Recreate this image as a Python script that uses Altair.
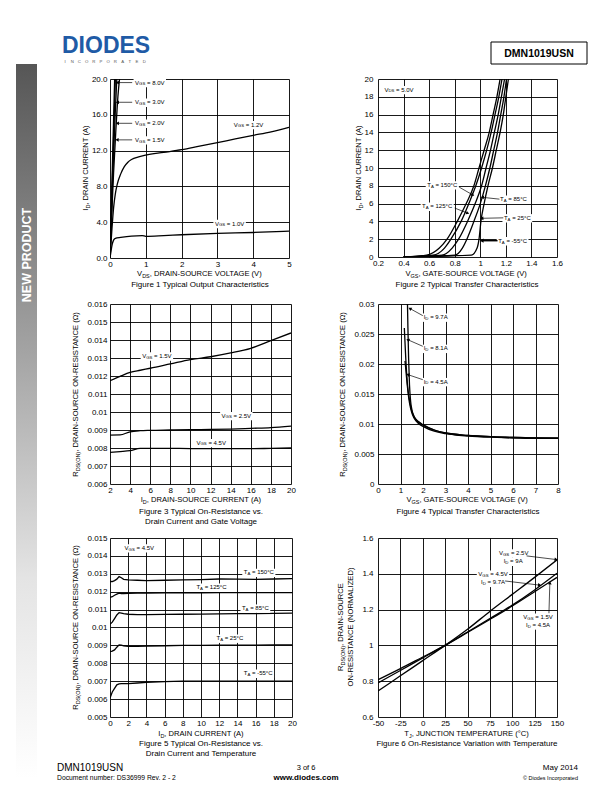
import math
import altair as alt
import pandas as pd

FONT = "Liberation Sans"

# ---------------- Figure 1: output characteristics ----------------
F1_VDS = {
    "8.0V": [0.0, 0.065, 0.13],
    "3.0V": [0.0, 0.075, 0.15],
    "2.0V": [0.0, 0.05, 0.1, 0.15, 0.19],
    "1.5V": [0.0, 0.05, 0.1, 0.16, 0.22, 0.28],
    "1.2V": [0.0, 0.05, 0.1, 0.15, 0.2, 0.3, 0.4, 0.5, 0.6, 0.8, 1.0, 1.5, 2.0, 2.5, 3.0, 3.5, 4.0, 4.5, 5.0],
    "1.0V": [0.0, 0.03, 0.06, 0.1, 0.15, 0.3, 0.6, 0.9, 1.0, 1.5, 2.0, 3.0, 4.0, 5.0],
}
F1_ID = {
    "8.0V": [0.0, 10.0, 20.0],
    "3.0V": [0.0, 10.0, 20.0],
    "2.0V": [0.0, 6.0, 11.5, 16.5, 20.0],
    "1.5V": [0.0, 5.0, 9.5, 14.0, 18.0, 20.5],
    "1.2V": [0.0, 3.0, 5.6, 7.2, 8.2, 9.4, 10.2, 10.7, 11.0, 11.3, 11.5, 11.8, 12.1, 12.5, 12.9, 13.3, 13.7, 14.1, 14.6],
    "1.0V": [0.0, 0.8, 1.5, 2.0, 2.2, 2.3, 2.45, 2.5, 2.42, 2.5, 2.6, 2.75, 2.85, 3.0],
}
F1_XTICKS = [0, 1, 2, 3, 4, 5]
F1_YTICKS = [0, 4, 8, 12, 16, 20]

# ---------------- Figure 2: transfer characteristics ----------------
F2_ID = [0.0, 0.2, 1, 2, 4, 6, 8, 10, 12, 14, 16, 18, 20]
F2_VGS = {
    "150": [0.40, 0.58, 0.68, 0.74, 0.82, 0.89, 0.95, 0.99, 1.03, 1.07, 1.10, 1.13, 1.155],
    "125": [0.40, 0.63, 0.72, 0.77, 0.85, 0.91, 0.965, 1.01, 1.05, 1.085, 1.115, 1.145, 1.17],
    "85": [0.40, 0.70, 0.78, 0.83, 0.90, 0.96, 1.01, 1.045, 1.08, 1.11, 1.14, 1.165, 1.19],
    "25": [0.40, 0.80, 0.86, 0.895, 0.95, 1.00, 1.04, 1.075, 1.105, 1.135, 1.16, 1.185, 1.205],
    "-55": [0.40, 0.93, 0.975, 0.99, 1.005, 1.03, 1.06, 1.095, 1.125, 1.155, 1.18, 1.20, 1.22],
}
F2_XTICKS = [0.2, 0.4, 0.6, 0.8, 1.0, 1.2, 1.4, 1.6]
F2_YTICKS = [0, 2, 4, 6, 8, 10, 12, 14, 16, 18, 20]

# ---------------- Figure 3: on-resistance vs drain current ----------------
F3_ID = [2, 3, 4, 5, 6, 8, 10, 12, 14, 16, 18, 20]
F3_R = {
    "1.5V": [0.01174, 0.01198, 0.0122, 0.01232, 0.01243, 0.01267, 0.01291, 0.01307, 0.01328, 0.01354, 0.01396, 0.01439],
    "2.5V": [0.00872, 0.00873, 0.0089, 0.00896, 0.00898, 0.009, 0.00902, 0.00903, 0.00905, 0.00909, 0.00913, 0.00922],
    "4.5V": [0.00776, 0.0078, 0.00785, 0.00798, 0.00798, 0.00798, 0.00797, 0.00796, 0.00796, 0.00796, 0.00798, 0.008],
}
F3_XTICKS = [2, 4, 6, 8, 10, 12, 14, 16, 18, 20]
F3_YTICKS = [0.006, 0.007, 0.008, 0.009, 0.01, 0.011, 0.012, 0.013, 0.014, 0.015, 0.016]

# ---------------- Figure 4: on-resistance vs gate voltage ----------------
F4_VGS = {
    "9.7A": [1.30, 1.33, 1.36, 1.40, 1.45, 1.5, 1.6, 1.8, 2.0, 2.5, 3, 4, 5, 6, 7, 8],
    "8.1A": [1.17, 1.22, 1.28, 1.34, 1.4, 1.45, 1.5, 1.6, 1.8, 2, 2.5, 3, 4, 5, 6, 7, 8],
    "4.5A": [1.2, 1.25, 1.3, 1.35, 1.4, 1.5, 1.6, 1.8, 2, 2.5, 3, 4, 5, 6, 7, 8],
}
F4_R = {
    "9.7A": [0.032, 0.026, 0.021, 0.0165, 0.0138, 0.0125, 0.0113, 0.0104, 0.0099, 0.009, 0.0085, 0.0081, 0.0079, 0.0078, 0.0077, 0.0077],
    "8.1A": [0.026, 0.022, 0.018, 0.0155, 0.014, 0.013, 0.0122, 0.0112, 0.0103, 0.0098, 0.009, 0.0085, 0.0081, 0.0079, 0.0077, 0.0077, 0.0076],
    "4.5A": [0.0205, 0.0185, 0.0165, 0.0148, 0.0135, 0.0119, 0.011, 0.0101, 0.0096, 0.0088, 0.0084, 0.008, 0.0078, 0.0077, 0.0076, 0.0076],
}
F4_XTICKS = [0, 1, 2, 3, 4, 5, 6, 7, 8]
F4_YTICKS = [0, 0.005, 0.01, 0.015, 0.02, 0.025, 0.03]

# ---------------- Figure 5: on-resistance vs drain current and temperature ----------------
F5_ID = [0, 0.25, 0.5, 0.75, 1.0, 1.25, 1.5, 2, 3, 4, 6, 8, 10, 12, 14, 16, 18, 20]
F5_R = {
    "150": [0.01256, 0.01257, 0.01262, 0.0127, 0.01284, 0.01278, 0.01269, 0.01266, 0.01264, 0.01262, 0.01264, 0.01266, 0.01268, 0.01271, 0.0127, 0.01269, 0.01271, 0.01273],
    "125": [0.01168, 0.01172, 0.0118, 0.01186, 0.01192, 0.0119, 0.0119, 0.01191, 0.01192, 0.01192, 0.01193, 0.01194, 0.01194, 0.01195, 0.01195, 0.01195, 0.01195, 0.01195],
    "85": [0.01018, 0.0103, 0.0105, 0.0107, 0.01083, 0.0108, 0.01077, 0.01074, 0.01072, 0.01072, 0.01073, 0.01074, 0.01075, 0.01076, 0.01077, 0.01078, 0.01079, 0.0108],
    "25": [0.00866, 0.00868, 0.00875, 0.0089, 0.00903, 0.00902, 0.00898, 0.00895, 0.00895, 0.00896, 0.00898, 0.009, 0.009, 0.00901, 0.00902, 0.00902, 0.00903, 0.00903],
    "-55": [0.00606, 0.0064, 0.0066, 0.0068, 0.00685, 0.00686, 0.00686, 0.00686, 0.0069, 0.00694, 0.00698, 0.007, 0.007, 0.007, 0.007, 0.007, 0.007, 0.007],
}
F5_XTICKS = [0, 2, 4, 6, 8, 10, 12, 14, 16, 18, 20]
F5_YTICKS = [0.005, 0.006, 0.007, 0.008, 0.009, 0.01, 0.011, 0.012, 0.013, 0.014, 0.015]

# ---------------- Figure 6: normalized on-resistance vs temperature ----------------
F6_T = [-50, -25, 0, 25, 50, 75, 100, 125, 150]
F6_R = {
    "2.5V/9A": [0.745, 0.83, 0.915, 1.0, 1.09, 1.19, 1.285, 1.38, 1.478],
    "4.5V/9.7A": [0.79, 0.86, 0.93, 1.0, 1.075, 1.15, 1.225, 1.31, 1.403],
    "1.5V/4.5A": [0.808, 0.87, 0.935, 1.0, 1.072, 1.145, 1.22, 1.30, 1.38],
}
F6_XTICKS = [-50, -25, 0, 25, 50, 75, 100, 125, 150]
F6_YTICKS = [0.6, 0.8, 1.0, 1.2, 1.4, 1.6]

# ---------------- annotations (text, x, y, align) and arrows (x1, y1, x2, y2) ----------------
F1_NOTES = [("V_{GS} = 8.0V", 0.70, 19.6, "left"), ("V_{GS} = 3.0V", 0.70, 17.4, "left"),
            ("V_{GS} = 2.0V", 0.70, 15.05, "left"), ("V_{GS} = 1.5V", 0.70, 13.2, "left"),
            ("V_{GS} = 1.2V", 3.46, 14.9, "left"), ("V_{GS} = 1.0V", 2.93, 3.85, "left")]
F1_ARROWS = [(0.62, 19.6, 0.22, 19.6), (0.62, 17.4, 0.22, 17.4), (0.62, 15.05, 0.22, 15.05), (0.62, 13.2, 0.21, 13.2)]
F2_NOTES = [("V_{DS} = 5.0V", 0.25, 18.8, "left"), ("T_{A} = 150°C", 0.585, 8.1, "left"),
            ("T_{A} = 125°C", 0.545, 5.7, "left"), ("T_{A} = 85°C", 1.155, 6.5, "left"),
            ("T_{A} = 25°C", 1.185, 4.4, "left"), ("T_{A} = -55°C", 1.14, 1.83, "left")]
F2_ARROWS = [(0.835, 7.85, 0.938, 7.0), (0.80, 5.5, 0.898, 4.94), (1.15, 6.5, 1.02, 6.7),
             (1.18, 4.4, 1.016, 4.35), (1.135, 1.83, 1.016, 1.83)]
F3_NOTES = [("V_{GS} = 1.5V", 5.2, 0.01311, "left"), ("V_{GS} = 2.5V", 13.1, 0.0098, "left"),
            ("V_{GS} = 4.5V", 10.6, 0.0083, "left")]
F4_NOTES = [("I_{D} = 9.7A", 2.03, 0.0278, "left"), ("I_{D} = 8.1A", 2.03, 0.0226, "left"),
            ("I_{D} = 4.5A", 2.03, 0.01706, "left")]
F4_ARROWS = [(1.99, 0.02806, 1.44, 0.0292), (1.99, 0.02295, 1.35, 0.024), (1.99, 0.01739, 1.35, 0.0182)]
F5_NOTES = [("V_{GS} = 4.5V", 1.6, 0.01445, "left"), ("T_{A} = 150°C", 14.7, 0.01308, "left"),
            ("T_{A} = 125°C", 9.5, 0.01225, "left"), ("T_{A} = 85°C", 14.5, 0.01108, "left"),
            ("T_{A} = 25°C", 11.7, 0.0094, "left"), ("T_{A} = -55°C", 14.7, 0.00744, "left")]
F6_NOTES = [("V_{GS} = 2.5V", 101.6, 1.516, "center"), ("I_{D} = 9A", 101.0, 1.47, "center"),
            ("V_{GS} = 4.5V", 78.5, 1.397, "center"), ("I_{D} = 9.7A", 78.5, 1.352, "center"),
            ("V_{GS} = 1.5V", 128.8, 1.157, "center"), ("I_{D} = 4.5A", 128.8, 1.114, "center")]
F6_ARROWS = [(116, 1.50, 148.5, 1.48), (92, 1.36, 130, 1.337), (141, 1.18, 142, 1.347)]

# ---------------- text helpers ----------------
CW = {}
for ch, w in zip(" !\"#$%&'()*+,-./", [278, 278, 355, 556, 556, 889, 667, 191, 333, 333, 389, 584, 278, 333, 278, 278]):
    CW[ch] = w
for ch in "0123456789":
    CW[ch] = 556
for ch, w in zip(":;<=>?@", [278, 278, 584, 584, 584, 556, 1015]):
    CW[ch] = w
for ch, w in zip("ABCDEFGHIJKLMNOPQRSTUVWXYZ", [667, 667, 722, 722, 667, 611, 778, 722, 278, 500, 667, 556, 833, 722, 778, 667, 778, 722, 667, 611, 722, 667, 944, 667, 667, 611]):
    CW[ch] = w
for ch, w in zip("abcdefghijklmnopqrstuvwxyz", [556, 556, 500, 556, 556, 278, 556, 556, 222, 222, 500, 222, 833, 556, 556, 556, 556, 333, 500, 278, 556, 500, 722, 500, 500, 500]):
    CW[ch] = w
CW.update({"°": 400, "Ω": 768, "©": 737})
SUB = 0.72
ONE = pd.DataFrame({"k": [0]})


def parse(s):
    segs, i = [], 0
    while i < len(s):
        j = s.find("_{", i)
        if j < 0:
            segs.append((s[i:], False))
            break
        if j > i:
            segs.append((s[i:j], False))
        k = s.find("}", j)
        segs.append((s[j + 2:k], True))
        i = k + 1
    return segs


def tw(s, size):
    return sum(CW.get(c, 556) for c in s) / 1000.0 * size


def layout_segs(text, size, align):
    segs = parse(text)
    widths = [tw(t, size * SUB if sub else size) for t, sub in segs]
    total = sum(widths)
    start = {"left": 0.0, "center": -total / 2.0, "right": -total}[align]
    items, cum = [], start
    for (t, sub), w in zip(segs, widths):
        fs = size * SUB if sub else size
        lead = len(t) - len(t.lstrip(" "))
        st = t.strip(" ")
        if st:
            items.append((st, cum + tw(" " * lead, fs), size * 0.3 if sub else 0.0, fs))
        cum += w
    return items, start, total


def ptext(text, px, py, size, align="center", angle=0, bold=False, color="black"):
    """Layout text at a pixel position inside a cell (titles, captions, header, footer)."""
    weight = "bold" if bold else "normal"
    enc = dict(x=alt.value(px), y=alt.value(py))
    if "_{" not in text:
        return [alt.Chart(ONE).mark_text(text=text, align=align, baseline="middle", fontSize=size,
                                         fontWeight=weight, color=color, angle=angle, font=FONT).encode(**enc)]
    items, _, _ = layout_segs(text, size, align)
    out = []
    for st, dx, dy, fs in items:
        out.append(alt.Chart(ONE).mark_text(text=st, align="left", baseline="middle", fontSize=fs, dx=dx, dy=dy,
                                            fontWeight=weight, color=color, angle=angle, font=FONT).encode(**enc))
    return out


def axis(values, fmt=None, expr=None, pad=3):
    kw = dict(values=values, title=None, grid=True, ticks=False, domain=False, labelFlush=False,
              labelOverlap=False, labelPadding=pad, labelFontSize=8, labelFont=FONT, labelColor="black",
              gridColor="black", gridOpacity=1, gridWidth=0.9)
    if fmt:
        kw["format"] = fmt
    if expr:
        kw["labelExpr"] = expr
    return alt.Axis(**kw)


class Panel:
    def __init__(self, df, xdom, ydom, xt, yt, xfmt, yfmt, w, h, interp="monotone", xexpr=None, sw=1.3, ypad=3):
        self.xs = alt.Scale(domain=xdom, nice=False, zero=False)
        self.ys = alt.Scale(domain=ydom, nice=False, zero=False)
        self.xa = axis(xt, xfmt, xexpr, pad=2)
        self.ya = axis(yt, yfmt, pad=ypad)
        self.kx = w / (xdom[1] - xdom[0])
        self.ky = h / (ydom[1] - ydom[0])
        self.w, self.h = w, h
        self.layers = [alt.Chart(df).mark_line(color="black", strokeWidth=sw, clip=True, interpolate=interp).encode(
            x=alt.X("x:Q", scale=self.xs, axis=self.xa),
            y=alt.Y("y:Q", scale=self.ys, axis=self.ya),
            detail="s:N", order="i:Q")]

    def enc(self, chart, xf="x", yf="y"):
        return chart.encode(x=alt.X(xf + ":Q", scale=self.xs, axis=self.xa),
                            y=alt.Y(yf + ":Q", scale=self.ys, axis=self.ya))

    def note(self, text, x, y, align="left", size=6.0, bg=True):
        base = self.enc(alt.Chart(pd.DataFrame({"x": [x], "y": [y]})))
        items, start, total = layout_segs(text, size, align)
        if bg:
            self.layers.append(base.mark_rect(fill="white", xOffset=start - 1.5, x2Offset=start + total + 1.5,
                                              yOffset=-size * 0.62, y2Offset=size * 0.78).encode(
                x2=alt.X2("x"), y2=alt.Y2("y")))
        for st, dx, dy, fs in items:
            self.layers.append(base.mark_text(text=st, align="left", baseline="middle", fontSize=fs, dx=dx, dy=dy,
                                              color="black", font=FONT))

    def arrow(self, a, sw=0.7, head=14):
        x1, y1, x2, y2 = a
        df = pd.DataFrame({"x": [x1], "y": [y1], "x2": [x2], "y2": [y2]})
        self.layers.append(self.enc(alt.Chart(df).mark_rule(color="black", strokeWidth=sw)).encode(
            x2=alt.X2("x2"), y2=alt.Y2("y2")))
        dxp = (x2 - x1) * self.kx
        dyp = -(y2 - y1) * self.ky
        ang = math.degrees(math.atan2(dxp, -dyp)) % 360
        self.layers.append(self.enc(alt.Chart(pd.DataFrame({"x": [x2], "y": [y2]})).mark_point(
            shape="triangle", filled=True, color="black", opacity=1, size=head, angle=ang)))

    def text(self, *args, **kw):
        self.layers += ptext(*args, **kw)

    def chart(self):
        return alt.layer(*self.layers).properties(width=self.w, height=self.h)


def long_df(xs_by, ys_by):
    rows = []
    for k in xs_by:
        for i, (a, b) in enumerate(zip(xs_by[k], ys_by[k])):
            rows.append({"s": k, "i": i, "x": a, "y": b})
    return pd.DataFrame(rows)


def spacer(w, h):
    return alt.Chart(ONE).mark_point(opacity=0).encode(x=alt.value(0), y=alt.value(0)).properties(width=w, height=h)


AT = 7.6   # axis title size
CAP = 8.0  # caption size
AN = 6.0   # annotation size

# ---------------- header cell (origin page 110,20) ----------------
grad = alt.Gradient(gradient="linear", x1=0, x2=0, y1=0, y2=1,
                    stops=[alt.GradientStop(offset=0, color="#565656"),
                           alt.GradientStop(offset=0.4, color="#a3a3a3"),
                           alt.GradientStop(offset=0.72, color="#e4e4e4"),
                           alt.GradientStop(offset=1, color="#ffffff")])
hdrL = [alt.Chart(ONE).mark_rect(fill=grad).encode(x=alt.value(-94), x2=alt.value(-73), y=alt.value(41), y2=alt.value(755))]
hdrL += ptext("NEW PRODUCT", -83.5, 232, 12.5, align="center", angle=270, bold=True, color="white")
hdrL += ptext("DIODES", -48, 23, 23, align="left", bold=True, color="#1f5ba6")
for i, ch in enumerate("INCORPORATED"):
    hdrL += ptext(ch, -45 + i * 7.2, 38.5, 4.3, align="center", color="#555555")
header_left = alt.layer(*hdrL).properties(width=179, height=56)

hdrR = [alt.Chart(ONE).mark_rect(fill="white", stroke="black", strokeWidth=1).encode(
    x=alt.value(113), x2=alt.value(209), y=alt.value(19), y2=alt.value(41))]
hdrR += ptext("DMN1019USN", 161, 30.5, 10.5, align="center", bold=True)
header_right = alt.layer(*hdrR).properties(width=179, height=56)

# ---------------- Figure 1 (origin 110,76) ----------------
p1 = Panel(long_df(F1_VDS, F1_ID), [0, 5], [0, 20], F1_XTICKS, F1_YTICKS, "d", ".1f", 179, 179)
for t, x, y, a in F1_NOTES:
    p1.note(t, x, y, a, AN)
for a in F1_ARROWS:
    p1.arrow(a)
p1.text("V_{DS}, DRAIN-SOURCE VOLTAGE (V)", 90, 194.5, AT)
p1.text("I_{D}, DRAIN CURRENT (A)", -24, 89, AT, angle=270)
p1.text("Figure 1 Typical Output Characteristics", 90, 206, CAP)
fig1 = p1.chart()

# ---------------- Figure 2 (origin 369,76) ----------------
p2 = Panel(long_df(F2_VGS, {k: F2_ID for k in F2_VGS}), [0.2, 1.6], [0, 20], F2_XTICKS, F2_YTICKS, "~g", "d",
           179, 178, ypad=5)
for t, x, y, a in F2_NOTES:
    p2.note(t, x, y, a, AN)
for i, a in enumerate(F2_ARROWS):
    p2.arrow(a, sw=1.4 if i == 4 else 0.7, head=18 if i == 4 else 14)
p2.text("V_{GS}, GATE-SOURCE VOLTAGE (V)", 89, 194.5, AT)
p2.text("I_{D}, DRAIN CURRENT (A)", -19, 89, AT, angle=270)
p2.text("Figure 2 Typical Transfer Characteristics", 89, 206, CAP)
fig2 = p2.chart()

# ---------------- Figure 3 (origin 110,299) ----------------
p3 = Panel(long_df({k: F3_ID for k in F3_R}, F3_R), [2, 20], [0.006, 0.016], F3_XTICKS, F3_YTICKS, "d", "~g", 181, 180)
for t, x, y, a in F3_NOTES:
    p3.note(t, x, y, a, AN)
p3.text("I_{D}, DRAIN-SOURCE CURRENT (A)", 91, 196, AT)
p3.text("R_{DS(ON)}, DRAIN-SOURCE ON-RESISTANCE (Ω)", -34, 90, AT, angle=270)
p3.text("Figure 3 Typical On-Resistance vs.", 91, 208, CAP)
p3.text("Drain Current and Gate Voltage", 91, 218, CAP)
fig3 = p3.chart()

# ---------------- Figure 4 (origin 377,300) ----------------
p4 = Panel(long_df(F4_VGS, F4_R), [0, 8], [0, 0.03], F4_XTICKS, F4_YTICKS, "d", "~g", 180, 180, ypad=4)
for t, x, y, a in F4_NOTES:
    p4.note(t, x, y, a, AN)
for a in F4_ARROWS:
    p4.arrow(a)
p4.text("V_{GS}, GATE-SOURCE VOLTAGE (V)", 90, 196, AT)
p4.text("R_{DS(ON)}, DRAIN-SOURCE ON-RESISTANCE (Ω)", -35, 90, AT, angle=270)
p4.text("Figure 4 Typical Transfer Characteristics", 90, 208, CAP)
fig4 = p4.chart()

# ---------------- Figure 5 (origin 110,533) ----------------
p5 = Panel(long_df({k: F5_ID for k in F5_R}, F5_R), [0, 20], [0.005, 0.015], F5_XTICKS, F5_YTICKS, "d", "~g",
           182, 179, interp="linear")
for t, x, y, a in F5_NOTES:
    p5.note(t, x, y, a, AN)
p5.text("I_{D}, DRAIN CURRENT (A)", 91, 195.5, AT)
p5.text("R_{DS(ON)}, DRAIN-SOURCE ON-RESISTANCE (Ω)", -34, 89, AT, angle=270)
p5.text("Figure 5 Typical On-Resistance vs.", 91, 206, CAP)
p5.text("Drain Current and Temperature", 91, 216, CAP)
# page footer
p5.text("DMN1019USN", -53, 230, 10, align="left")
p5.text("Document number: DS36999  Rev. 2 - 2", -53, 240, 6.8, align="left")
p5.text("3 of 6", 196, 230, 7.5, align="center")
p5.text("www.diodes.com", 196, 240, 8, align="center", bold=True)
p5.text("May 2014", 468, 230, 8, align="right")
p5.text("© Diodes Incorporated", 468, 239.5, 5.5, align="right")
fig5 = p5.chart()

# ---------------- Figure 6 (origin 375,533) ----------------
p6 = Panel(long_df({k: F6_T for k in F6_R}, F6_R), [-50, 150], [0.6, 1.6], F6_XTICKS, F6_YTICKS, None, "~g",
           179, 179, xexpr="'' + datum.value", ypad=5)
for t, x, y, a in F6_NOTES:
    p6.note(t, x, y, a, AN)
for a in F6_ARROWS:
    p6.arrow(a)
p6.text("T_{J}, JUNCTION TEMPERATURE (°C)", 89, 195.5, AT)
p6.text("R_{DS(ON)}, DRAIN-SOURCE", -37, 89, AT, angle=270)
p6.text("ON-RESISTANCE (NORMALIZED)", -27, 89, AT, angle=270)
p6.text("Figure 6 On-Resistance Variation with Temperature", 89, 206, CAP)
fig6 = p6.chart()

cells = [
    header_left, spacer(80, 1), header_right,
    fig1, spacer(80, 1), fig2,
    spacer(179, 44), spacer(80, 1), spacer(179, 46),
    fig3, spacer(86, 1), fig4,
    spacer(181, 54), spacer(86, 1), spacer(180, 53),
    fig5, spacer(83, 1), fig6,
]

chart = alt.concat(*cells, columns=3, spacing=0, bounds="flush", align="none",
                   padding={"left": 8, "top": 12, "right": 2, "bottom": 0}
                   ).configure_view(stroke=None).configure_text(font=FONT)

chart.save("out.html", embed_options={"renderer": "svg", "actions": False})
